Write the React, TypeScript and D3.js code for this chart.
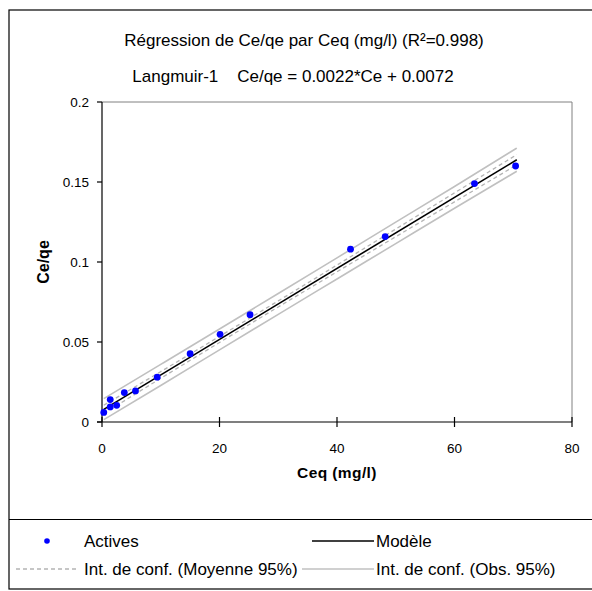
import React, { useEffect, useRef } from "react";
import * as d3 from "d3";

const W = 592;
const H = 591;

// Observations (Ceq, Ce/qe)
const ceq = [0.3, 1.4, 1.4, 2.5, 3.8, 5.7, 9.4, 15.0, 20.1, 25.2, 42.3, 48.2, 63.4, 70.4];
const ceqe = [0.006, 0.014, 0.0094, 0.0104, 0.0184, 0.0194, 0.028, 0.0427, 0.0548, 0.0671, 0.108, 0.1159, 0.149, 0.160];

// Model line end points
const modelX = [0.3, 70.6];
const modelY = [0.0079, 0.1639];

// Confidence bands
const bandX = [0.3, 10, 20, 30, 40, 50, 60, 70.6];
const obsUpper = [0.0146, 0.036, 0.0581, 0.0803, 0.1026, 0.1249, 0.1472, 0.1712];
const obsLower = [0.0015, 0.0228, 0.0451, 0.0673, 0.0894, 0.1115, 0.1336, 0.1567];
const meanUpper = [0.0105, 0.0315, 0.0535, 0.0757, 0.0981, 0.1206, 0.1432, 0.1671];
const meanLower = [0.0053, 0.0273, 0.0497, 0.0719, 0.0939, 0.1158, 0.1376, 0.1607];

const xTicks = [0, 20, 40, 60, 80];
const yTicks = [0, 0.05, 0.1, 0.15, 0.2];
const yTickLabels = ["0", "0.05", "0.1", "0.15", "0.2"];

const title1 = "Régression de Ce/qe par Ceq (mg/l) (R²=0.998)";
const title2 = "Langmuir-1    Ce/qe = 0.0022*Ce + 0.0072";
const xLabel = "Ceq (mg/l)";
const yLabel = "Ce/qe";
const legendItems = ["Actives", "Modèle", "Int. de conf. (Moyenne 95%)", "Int. de conf. (Obs. 95%)"];

const FONT = "'Liberation Sans', Arial, sans-serif";

export default function App() {
  const ref = useRef<SVGSVGElement>(null);

  useEffect(() => {
    const svg = d3.select(ref.current);
    svg.selectAll("*").remove();

    const x = d3.scaleLinear().domain([0, 80]).range([102, 572]);
    const y = d3.scaleLinear().domain([0, 0.2]).range([422, 102]);

    // outer frame
    svg.append("rect").attr("x", 9).attr("y", 10).attr("width", 600).attr("height", 579)
      .attr("fill", "white").attr("stroke", "#000").attr("stroke-width", 1.2);
    svg.append("line").attr("x1", 9).attr("x2", 600).attr("y1", 519.5).attr("y2", 519.5)
      .attr("stroke", "#000").attr("stroke-width", 1.2);

    // titles
    svg.append("text").attr("x", 304).attr("y", 46).attr("text-anchor", "middle")
      .attr("font-family", FONT).attr("font-size", 17).text(title1);
    svg.append("text").attr("x", 293).attr("y", 82).attr("text-anchor", "middle")
      .attr("font-family", FONT).attr("font-size", 17).attr("xml:space", "preserve")
      .style("white-space", "pre").text(title2);

    // plot border (top/right grey)
    svg.append("path").attr("d", `M${x(0)},${y(0.2)}H${x(80)}V${y(0)}`)
      .attr("fill", "none").attr("stroke", "#808080").attr("stroke-width", 1);

    // y axis
    svg.append("line").attr("x1", x(0)).attr("x2", x(0)).attr("y1", y(0.2)).attr("y2", y(0))
      .attr("stroke", "#000").attr("stroke-width", 1.2);
    yTicks.forEach((t, i) => {
      svg.append("line").attr("x1", x(0) - 5).attr("x2", x(0)).attr("y1", y(t)).attr("y2", y(t))
        .attr("stroke", "#000").attr("stroke-width", 1.2);
      svg.append("text").attr("x", x(0) - 13).attr("y", y(t) + 5).attr("text-anchor", "end")
        .attr("font-family", FONT).attr("font-size", 13.5).text(yTickLabels[i]);
    });
    // x axis
    svg.append("line").attr("x1", x(0) - 5).attr("x2", x(80)).attr("y1", y(0)).attr("y2", y(0))
      .attr("stroke", "#000").attr("stroke-width", 1.2);
    xTicks.forEach((t) => {
      svg.append("line").attr("x1", x(t)).attr("x2", x(t)).attr("y1", y(0) - 5).attr("y2", y(0) + 5)
        .attr("stroke", "#000").attr("stroke-width", 1.2);
      svg.append("text").attr("x", x(t)).attr("y", y(0) + 31).attr("text-anchor", "middle")
        .attr("font-family", FONT).attr("font-size", 13.5).text(String(t));
    });

    svg.append("text").attr("x", 337).attr("y", 478).attr("text-anchor", "middle")
      .attr("font-family", FONT).attr("font-size", 15.5).attr("font-weight", "bold")
      .attr("letter-spacing", 0.4).text(xLabel);
    svg.append("text").attr("transform", `translate(49,262) rotate(-90)`).attr("text-anchor", "middle")
      .attr("font-family", FONT).attr("font-size", 16).attr("font-weight", "bold").text(yLabel);

    const lineGen = d3.line<[number, number]>().x((d) => x(d[0])).y((d) => y(d[1])).curve(d3.curveMonotoneX);
    const band = (vals: number[]) => bandX.map((bx, i) => [bx, vals[i]] as [number, number]);

    // obs CI
    [obsUpper, obsLower].forEach((v) => {
      svg.append("path").attr("d", lineGen(band(v))).attr("fill", "none")
        .attr("stroke", "#c0c0c0").attr("stroke-width", 1.6);
    });
    // mean CI
    [meanUpper, meanLower].forEach((v) => {
      svg.append("path").attr("d", lineGen(band(v))).attr("fill", "none")
        .attr("stroke", "#b4b4b4").attr("stroke-width", 1.3).attr("stroke-dasharray", "4,3");
    });
    // model
    svg.append("path").attr("d", lineGen(modelX.map((mx, i) => [mx, modelY[i]] as [number, number])))
      .attr("fill", "none").attr("stroke", "#000").attr("stroke-width", 1.6);

    // points
    svg.append("g").selectAll("circle").data(ceq).join("circle")
      .attr("cx", (d) => x(d)).attr("cy", (_d, i) => y(ceqe[i])).attr("r", 3.4).attr("fill", "#0000ff");

    // legend
    const r1 = 541, r2 = 569;
    svg.append("circle").attr("cx", 47).attr("cy", r1).attr("r", 2.8).attr("fill", "#0000ff");
    svg.append("text").attr("x", 84).attr("y", r1 + 6).attr("font-family", FONT).attr("font-size", 17).text(legendItems[0]);
    svg.append("line").attr("x1", 312).attr("x2", 374).attr("y1", r1).attr("y2", r1).attr("stroke", "#000").attr("stroke-width", 1.6);
    svg.append("text").attr("x", 376).attr("y", r1 + 6).attr("font-family", FONT).attr("font-size", 17).text(legendItems[1]);
    svg.append("line").attr("x1", 16).attr("x2", 78).attr("y1", r2).attr("y2", r2).attr("stroke", "#b4b4b4")
      .attr("stroke-width", 1.3).attr("stroke-dasharray", "4,3");
    svg.append("text").attr("x", 84).attr("y", r2 + 6).attr("font-family", FONT).attr("font-size", 17).text(legendItems[2]);
    svg.append("line").attr("x1", 302).attr("x2", 374).attr("y1", r2).attr("y2", r2).attr("stroke", "#c0c0c0").attr("stroke-width", 1.6);
    svg.append("text").attr("x", 376).attr("y", r2 + 6).attr("font-family", FONT).attr("font-size", 17).text(legendItems[3]);
  }, []);

  return (
    <svg ref={ref} width={W} height={H} style={{ position: "absolute", left: 0, top: 0, display: "block" }} />
  );
}
